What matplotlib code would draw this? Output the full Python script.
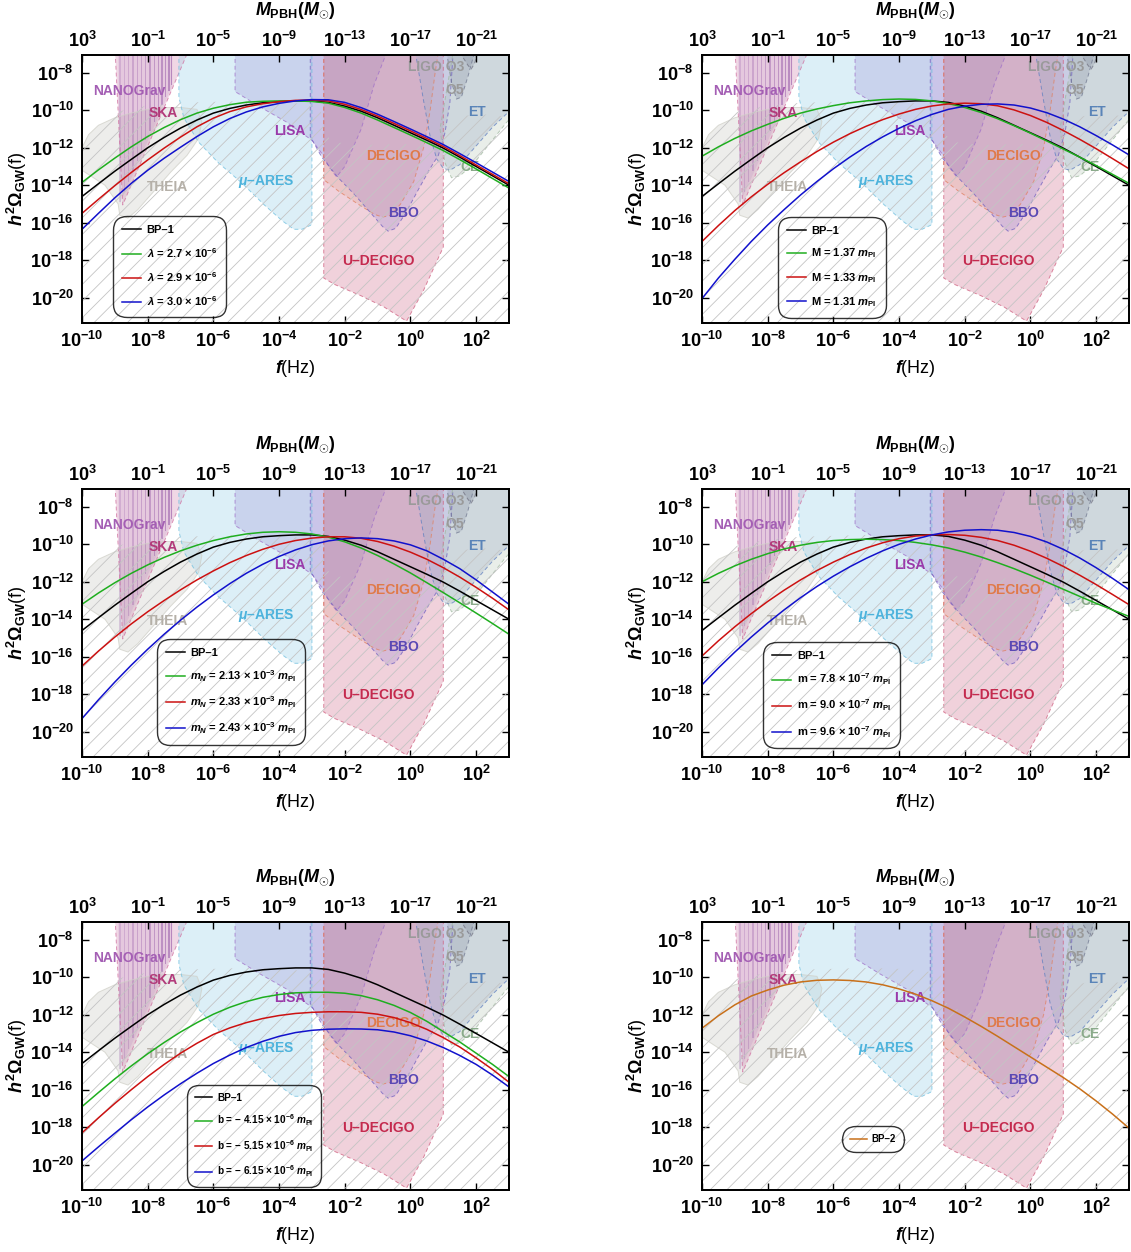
import numpy as np
import matplotlib
matplotlib.use("Agg")
import matplotlib.pyplot as plt
from matplotlib.ticker import FixedLocator, FuncFormatter, NullLocator
from matplotlib.lines import Line2D

plt.rcParams.update({
    "font.family": ["Liberation Sans", "DejaVu Sans"],
    "font.weight": "bold",
    "mathtext.fontset": "custom",
    "mathtext.rm": "Liberation Sans:bold",
    "mathtext.it": "Liberation Sans:italic:bold",
    "mathtext.bf": "Liberation Sans:bold",
    "mathtext.sf": "Liberation Sans:bold",
    "hatch.linewidth": 0.6,
})

# ---------------- data (log10 values) ----------------
F_LOG = [-10.0, -9.5, -9.0, -8.5, -8.0, -7.5, -7.0, -6.5, -6.0, -5.5, -5.0, -4.5, -4.0, -3.5,
         -3.0, -2.5, -2.0, -1.5, -1.0, -0.5, 0.0, 0.5, 1.0, 1.5, 2.0, 2.5, 3.0]

BP1 = [-14.6, -13.92, -13.25, -12.62, -12.0, -11.45, -10.95, -10.52, -10.15, -9.9, -9.72, -9.6, -9.54, -9.5,
       -9.5, -9.58, -9.78, -10.05, -10.4, -10.8, -11.2, -11.6, -12.02, -12.5, -13.0, -13.5, -14.0]

LAM_27 = [-13.85, -13.18, -12.55, -11.95, -11.4, -10.92, -10.5, -10.15, -9.89, -9.7, -9.57, -9.52, -9.5, -9.5,
          -9.53, -9.62, -9.85, -10.15, -10.52, -10.92, -11.32, -11.73, -12.15, -12.63, -13.13, -13.64, -14.15]
LAM_29 = [-15.5, -14.75, -14.02, -13.32, -12.65, -12.02, -11.43, -10.88, -10.42, -10.07, -9.82, -9.65, -9.54, -9.47,
          -9.45, -9.5, -9.68, -9.96, -10.31, -10.7, -11.1, -11.51, -11.93, -12.42, -12.92, -13.42, -13.92]
LAM_30 = [-16.35, -15.5, -14.67, -13.9, -13.2, -12.56, -11.97, -11.4, -10.88, -10.44, -10.09, -9.82, -9.63, -9.5,
          -9.43, -9.44, -9.58, -9.86, -10.21, -10.6, -11.0, -11.41, -11.83, -12.31, -12.8, -13.3, -13.8]

M_137 = [-12.45, -11.95, -11.5, -11.1, -10.75, -10.43, -10.15, -9.93, -9.75, -9.6, -9.5, -9.43, -9.4, -9.42,
         -9.5, -9.64, -9.85, -10.12, -10.45, -10.82, -11.22, -11.64, -12.07, -12.5, -12.95, -13.42, -13.9]
M_133 = [-17.0, -16.15, -15.35, -14.62, -13.95, -13.33, -12.75, -12.2, -11.7, -11.25, -10.85, -10.5, -10.2, -9.95,
         -9.77, -9.66, -9.62, -9.65, -9.76, -9.98, -10.28, -10.65, -11.08, -11.55, -12.05, -12.58, -13.12]
M_131 = [-20.05, -18.95, -17.95, -17.0, -16.12, -15.3, -14.52, -13.8, -13.12, -12.5, -11.93, -11.42, -10.96, -10.56,
         -10.22, -9.95, -9.78, -9.68, -9.66, -9.72, -9.88, -10.13, -10.47, -10.88, -11.35, -11.85, -12.38]

MN_213 = [-13.2, -12.6, -12.05, -11.55, -11.1, -10.7, -10.35, -10.05, -9.8, -9.6, -9.45, -9.36, -9.33, -9.36,
          -9.45, -9.62, -9.87, -10.2, -10.6, -11.05, -11.53, -12.05, -12.58, -13.12, -13.67, -14.23, -14.8]
MN_233 = [-16.5, -15.7, -14.95, -14.25, -13.6, -13.0, -12.43, -11.9, -11.42, -10.98, -10.6, -10.27, -10.0, -9.8,
          -9.67, -9.6, -9.6, -9.68, -9.85, -10.1, -10.42, -10.8, -11.25, -11.75, -12.3, -12.88, -13.5]
MN_243 = [-19.3, -18.3, -17.35, -16.45, -15.6, -14.8, -14.05, -13.35, -12.7, -12.1, -11.55, -11.07, -10.65, -10.3,
          -10.02, -9.82, -9.7, -9.66, -9.7, -9.82, -10.03, -10.35, -10.8, -11.3, -11.9, -12.55, -13.2]

MS_78 = [-12.0, -11.55, -11.15, -10.8, -10.5, -10.25, -10.05, -9.9, -9.8, -9.75, -9.73, -9.75, -9.8, -9.9,
         -10.03, -10.2, -10.42, -10.68, -10.98, -11.3, -11.65, -12.02, -12.4, -12.78, -13.15, -13.5, -13.85]
MS_90 = [-15.96, -15.15, -14.4, -13.7, -13.05, -12.45, -11.9, -11.4, -10.95, -10.55, -10.2, -9.92, -9.7, -9.56,
         -9.49, -9.48, -9.52, -9.63, -9.8, -10.05, -10.37, -10.75, -11.18, -11.65, -12.15, -12.68, -13.22]
MS_96 = [-17.5, -16.6, -15.75, -14.95, -14.2, -13.5, -12.85, -12.25, -11.7, -11.2, -10.75, -10.35, -10.0, -9.72,
         -9.5, -9.34, -9.25, -9.22, -9.25, -9.37, -9.58, -9.88, -10.27, -10.73, -11.25, -11.82, -12.42]

B_415 = [-16.9, -16.15, -15.42, -14.73, -14.08, -13.48, -12.92, -12.42, -11.97, -11.6, -11.3, -11.07, -10.92, -10.83,
         -10.8, -10.8, -10.85, -10.98, -11.2, -11.5, -11.88, -12.35, -12.9, -13.45, -14.05, -14.65, -15.3]
B_515 = [-18.3, -17.5, -16.73, -16.0, -15.3, -14.65, -14.05, -13.52, -13.05, -12.7, -12.42, -12.2, -12.04, -11.93,
         -11.87, -11.84, -11.84, -11.87, -11.97, -12.15, -12.42, -12.78, -13.22, -13.72, -14.3, -14.92, -15.6]
B_615 = [-19.8, -19.05, -18.32, -17.6, -16.92, -16.28, -15.68, -15.12, -14.6, -14.15, -13.75, -13.42, -13.15, -12.95,
         -12.83, -12.77, -12.75, -12.76, -12.8, -12.92, -13.12, -13.4, -13.75, -14.17, -14.65, -15.22, -15.85]

BP2 = [-12.72, -12.05, -11.47, -11.0, -10.68, -10.42, -10.25, -10.16, -10.14, -10.17, -10.25, -10.4, -10.62, -10.9,
       -11.25, -11.65, -12.12, -12.62, -13.15, -13.7, -14.25, -14.8, -15.35, -15.95, -16.6, -17.3, -18.05]

MPL_TXT = "$m_{\\mathrm{Pl}}$"
LEG_P1 = ["BP\u20131", "$\\lambda$ = 2.7 \u00d7 10$^{-6}$", "$\\lambda$ = 2.9 \u00d7 10$^{-6}$",
          "$\\lambda$ = 3.0 \u00d7 10$^{-6}$"]
LEG_P2 = ["BP\u20131", "M = 1.37 " + MPL_TXT, "M = 1.33 " + MPL_TXT, "M = 1.31 " + MPL_TXT]
LEG_P3 = ["BP\u20131", "$m_N$ = 2.13 \u00d7 10$^{-3}$ " + MPL_TXT, "$m_N$ = 2.33 \u00d7 10$^{-3}$ " + MPL_TXT,
          "$m_N$ = 2.43 \u00d7 10$^{-3}$ " + MPL_TXT]
LEG_P4 = ["BP\u20131", "m = 7.8 \u00d7 10$^{-7}$ " + MPL_TXT, "m = 9.0 \u00d7 10$^{-7}$ " + MPL_TXT,
          "m = 9.6 \u00d7 10$^{-7}$ " + MPL_TXT]
LEG_P5 = ["BP\u20131", "b = \u2212 4.15 \u00d7 10$^{-6}$ " + MPL_TXT, "b = \u2212 5.15 \u00d7 10$^{-6}$ " + MPL_TXT,
          "b = \u2212 6.15 \u00d7 10$^{-6}$ " + MPL_TXT]
LEG_P6 = ["BP\u20132"]

# detector sensitivity regions (log10 f, log10 h^2 Omega)
SKA_LF = [-8.99, -8.76, -6.78]
SKA_LO = [-6.9, -15.05, -6.9]
NANO_LF = [-8.9, -8.85, -7.25, -7.25]
NANO_LO = [-6.9, -15.0, -8.7, -6.9]
NANO_BAR_LF = [-8.84, -8.71, -8.58, -8.45, -8.32, -8.19, -8.06, -7.93, -7.8, -7.68, -7.56, -7.45, -7.35, -7.27]
NANO_BAR_LO = [-14.9, -14.35, -13.8, -13.25, -12.7, -12.15, -11.6, -11.1, -10.6, -10.15, -9.7, -9.3, -8.95, -8.65]
THEIA_LF = [-10.0, -9.8, -9.5, -9.0, -8.5, -8.0, -7.5, -7.0, -6.5, -6.35, -6.45, -6.8, -7.3, -7.8, -8.3, -8.6,
            -8.85, -8.9, -9.3, -10.0]
THEIA_LO = [-12.0, -11.3, -10.8, -10.4, -10.15, -9.95, -9.85, -9.85, -9.95, -10.6, -11.5, -12.4, -13.3, -14.3, -15.3,
            -15.75, -15.6, -15.0, -14.0, -13.2]
MUARES_LF = [-7.05, -7.05, -6.9, -6.45, -5.85, -5.15, -4.45, -3.9, -3.55, -3.3, -3.0, -3.0]
MUARES_LO = [-6.9, -9.3, -10.4, -11.7, -12.8, -13.85, -15.05, -15.9, -16.35, -16.35, -16.1, -6.9]
LISA_LF = [-5.34, -5.34, -4.6, -3.8, -3.0, -2.7, -2.45, -2.25, -2.0, -1.5, -1.1, -0.72]
LISA_LO = [-6.9, -9.0, -9.8, -10.6, -11.6, -12.3, -13.1, -13.55, -13.0, -11.0, -8.6, -6.9]
BBO_LF = [-3.05, -3.05, -2.7, -2.2, -1.7, -1.2, -0.85, -0.68, -0.45, -0.15, 0.25, 0.6, 0.85, 1.05, 1.2, 1.3]
BBO_LO = [-6.9, -11.4, -12.5, -13.6, -14.5, -15.5, -16.2, -16.45, -16.3, -15.5, -14.2, -13.1, -12.4, -11.2, -9.6, -6.9]
DECIGO_LF = [-2.64, -2.64, -2.2, -1.6, -1.1, -0.85, -0.6, -0.3, 0.1, 0.4, 0.6, 0.75, 0.85]
DECIGO_LO = [-6.9, -13.7, -14.3, -15.0, -15.55, -15.7, -15.6, -15.0, -13.8, -12.0, -10.0, -8.0, -6.9]
UDECIGO_LF = [-2.64, -2.64, -2.3, -1.5, -0.8, -0.12, 0.4, 1.0, 1.0]
UDECIGO_LO = [-6.9, -18.95, -19.3, -19.9, -20.5, -21.25, -19.6, -17.3, -6.9]
ET_LF = [0.15, 0.4, 0.6, 0.8, 1.0, 1.2, 1.5, 2.0, 2.5, 3.1, 3.1]
ET_LO = [-6.9, -9.5, -11.4, -12.6, -13.1, -13.2, -12.9, -11.9, -10.9, -9.9, -6.9]
CE_LF = [0.9, 1.05, 1.25, 1.5, 1.9, 2.4, 2.9, 3.1, 3.1, 1.3]
CE_LO = [-11.0, -12.8, -13.6, -13.5, -12.9, -11.8, -10.7, -10.3, -6.9, -6.9]
O5_LF = [1.1, 1.25, 1.4, 1.55, 1.75, 1.95]
O5_LO = [-6.9, -8.5, -9.4, -9.3, -8.2, -6.9]
O3_LF = [1.5, 1.75, 1.85, 1.95, 2.05]
O3_LO = [-6.9, -7.6, -7.8, -7.5, -6.9]
HATCH_LF = [-10.5, -10.0, -9.5, -9.0, -8.0, -7.0, -6.0, -5.0, -4.0, -3.3, -2.75, -2.6, -2.3, -1.5, -0.5, 0.3, 0.7,
            1.0, 1.5, 2.0, 2.5, 3.0, 3.5, 3.5, -10.5]
HATCH_LO = [-12.0, -11.5, -10.6, -10.1, -9.75, -9.6, -9.55, -9.5, -9.55, -9.65, -9.8, -11.3, -11.7, -11.85, -11.8,
            -11.8, -11.3, -10.7, -10.35, -10.2, -10.25, -10.35, -10.4, -22.0, -22.0]

REGIONS = [
    (THEIA_LF, THEIA_LO, "#c0c0b8", 0.28, "#d0d0c8", "-"),
    (SKA_LF, SKA_LO, "#c8689c", 0.26, "#d070a0", "--"),
    (NANO_LF, NANO_LO, "#9860b0", 0.12, "none", "-"),
    (MUARES_LF, MUARES_LO, "#a8d8ec", 0.40, "#70c0e0", "--"),
    (LISA_LF, LISA_LO, "#a8a4dc", 0.36, "#a070c8", "--"),
    (UDECIGO_LF, UDECIGO_LO, "#d27090", 0.32, "#d06080", "--"),
    (DECIGO_LF, DECIGO_LO, "#e0a088", 0.25, "#e08060", "--"),
    (BBO_LF, BBO_LO, "#8c7cd0", 0.25, "#7060c0", "--"),
    (CE_LF, CE_LO, "#c0d0c0", 0.35, "#a0b8a0", "--"),
    (ET_LF, ET_LO, "#a0b0c8", 0.35, "#6080c0", "--"),
    (O5_LF, O5_LO, "#9098a8", 0.30, "#707890", "--"),
    (O3_LF, O3_LO, "#8890a0", 0.30, "#707080", "--"),
]

LABELS = [
    ("NANOGrav", -8.57, -8.95, "#a45fb4"),
    ("SKA", -7.53, -10.13, "#b23a7a"),
    ("THEIA", -7.4, -14.08, "#b5b0a8"),
    ("$\\mu$\u2013ARES", -4.39, -13.78, "#4db3dc"),
    ("LISA", -3.68, -11.08, "#9a3aaa"),
    ("DECIGO", -0.51, -12.46, "#e07a4a"),
    ("BBO", -0.2, -15.46, "#5a48b4"),
    ("U\u2013DECIGO", -0.99, -18.06, "#c42a4e"),
    ("LIGO O3", 0.79, -7.68, "#9a9a9a"),
    ("O5", 1.35, -8.92, "#9a9a9a"),
    ("ET", 2.01, -10.07, "#5a84b8"),
    ("CE", 1.81, -13.02, "#8aaa8a"),
]

X_TICKS = [1e-10, 1e-8, 1e-6, 1e-4, 1e-2, 1e0, 1e2]
Y_TICKS = [1e-20, 1e-18, 1e-16, 1e-14, 1e-12, 1e-10, 1e-8]
M_TICKS = [1e3, 1e-1, 1e-5, 1e-9, 1e-13, 1e-17, 1e-21]
XLIM = (-10.0, 3.0)
YLIM = (-21.35, -7.05)

BLACK, GREEN, RED, BLUE, ORANGE = "black", "#1fae1f", "#cc1111", "#1111cc", "#c8701a"

PANELS = [
    dict(curves=[BP1, LAM_27, LAM_29, LAM_30], colors=[BLACK, GREEN, RED, BLUE], labels=LEG_P1,
         anchor=(0.073, 0.022), fs=8.0, ls=0.95),
    dict(curves=[BP1, M_137, M_133, M_131], colors=[BLACK, GREEN, RED, BLUE], labels=LEG_P2,
         anchor=(0.178, 0.019), fs=8.0, ls=0.95),
    dict(curves=[BP1, MN_213, MN_233, MN_243], colors=[BLACK, GREEN, RED, BLUE], labels=LEG_P3,
         anchor=(0.175, 0.045), fs=8.0, ls=0.95),
    dict(curves=[BP1, MS_78, MS_90, MS_96], colors=[BLACK, GREEN, RED, BLUE], labels=LEG_P4,
         anchor=(0.144, 0.032), fs=8.0, ls=0.95),
    dict(curves=[BP1, B_415, B_515, B_615], colors=[BLACK, GREEN, RED, BLUE], labels=LEG_P5,
         anchor=(0.246, 0.010), fs=7.2, ls=1.0),
    dict(curves=[BP2], colors=[ORANGE], labels=LEG_P6, anchor=(0.329, 0.142), fs=7.0, ls=1.0),
]


def f_to_M(f):
    return 1e-17 * np.asarray(f, dtype=float) ** -2


def p10(v):
    return np.power(10.0, np.asarray(v, dtype=float))


fmt = FuncFormatter(lambda v, p: r"$10^{%d}$" % int(round(np.log10(v))))

W, H = 1131, 1252
fig = plt.figure(figsize=(W / 100, H / 100), dpi=100)
COL_X = [82, 702]
ROW_Y = [55, 489, 922]
AW, AH = 427, 268

for i, P in enumerate(PANELS):
    r, c = divmod(i, 2)
    ax = fig.add_axes([COL_X[c] / W, 1 - (ROW_Y[r] + AH) / H, AW / W, AH / H])
    ax.set_xscale("log")
    ax.set_yscale("log")
    ax.set_xlim(10 ** XLIM[0], 10 ** XLIM[1])
    ax.set_ylim(10 ** YLIM[0], 10 ** YLIM[1])

    for lf, lo, fc, a, ec, ls in REGIONS:
        ax.fill(p10(lf), p10(lo), facecolor=fc, alpha=a, edgecolor="none", zorder=1)
        if ec != "none":
            ax.plot(p10(lf + [lf[0]]), p10(lo + [lo[0]]), color=ec, lw=0.7,
                    ls=(0, (4, 3)) if ls == "--" else "-", alpha=0.75, zorder=1.5)
    nb = len(NANO_BAR_LF)
    for k, (lf, lo) in enumerate(zip(NANO_BAR_LF, NANO_BAR_LO)):
        ax.fill_between(p10([lf - 0.02, lf + 0.02]), p10([lo, lo]), p10([-6.9, -6.9]),
                        facecolor="#8a4aa0", alpha=0.2 + 0.3 * k / (nb - 1), edgecolor="none", zorder=1.2)
    ax.fill(p10(HATCH_LF), p10(HATCH_LO), facecolor="none", edgecolor="#c4c4c4", hatch="//",
            linewidth=0, zorder=2)

    for s, lf, lo, col in LABELS:
        ax.text(10 ** lf, 10 ** lo, s, color=col, fontsize=10, fontweight="bold",
                ha="center", va="center", zorder=3)

    for vals, col in zip(P["curves"], P["colors"]):
        ax.plot(p10(F_LOG), p10(vals), color=col, lw=1.1, zorder=5)

    handles = [Line2D([], [], color=col, lw=1.1) for col in P["colors"]]
    leg = ax.legend(handles, P["labels"], loc="lower left", bbox_to_anchor=P["anchor"],
                    bbox_transform=ax.transAxes, borderaxespad=0, fontsize=P["fs"],
                    handlelength=1.7, handletextpad=0.5, labelspacing=P["ls"], borderpad=0.8,
                    frameon=True, fancybox=True)
    fr = leg.get_frame()
    fr.set_facecolor("none")
    fr.set_edgecolor("black")
    fr.set_linewidth(1.0)
    fr.set_boxstyle("round,pad=0,rounding_size=%.2f" % (1.2 if len(P["labels"]) > 1 else 1.35))
    leg.set_zorder(6)

    ax.xaxis.set_major_locator(FixedLocator(X_TICKS))
    ax.yaxis.set_major_locator(FixedLocator(Y_TICKS))
    ax.xaxis.set_minor_locator(NullLocator())
    ax.yaxis.set_minor_locator(NullLocator())
    ax.xaxis.set_major_formatter(fmt)
    ax.yaxis.set_major_formatter(fmt)
    ax.tick_params(which="both", direction="in", top=False, right=True, length=5, width=1,
                   labelsize=13, pad=6)
    for sp in ax.spines.values():
        sp.set_linewidth(1.3)
    ax.set_xlabel(r"$f$(Hz)", fontsize=13, labelpad=5)
    ax.set_ylabel(r"$h^2\Omega_{\mathrm{GW}}$(f)", fontsize=13, labelpad=1)

    ax2 = ax.twiny()
    ax2.set_xscale("log")
    ax2.set_xlim(f_to_M(10 ** XLIM[0]), f_to_M(10 ** XLIM[1]))
    ax2.xaxis.set_major_locator(FixedLocator(M_TICKS))
    ax2.xaxis.set_minor_locator(NullLocator())
    ax2.xaxis.set_major_formatter(fmt)
    ax2.tick_params(axis="x", direction="in", length=5, width=1, labelsize=13, pad=3)
    for sp in ax2.spines.values():
        sp.set_linewidth(1.3)
    ax2.set_xlabel(r"$M_{\mathrm{PBH}}(M_{\odot})$", fontsize=13, labelpad=11)

fig.savefig("out.png", dpi=100)
